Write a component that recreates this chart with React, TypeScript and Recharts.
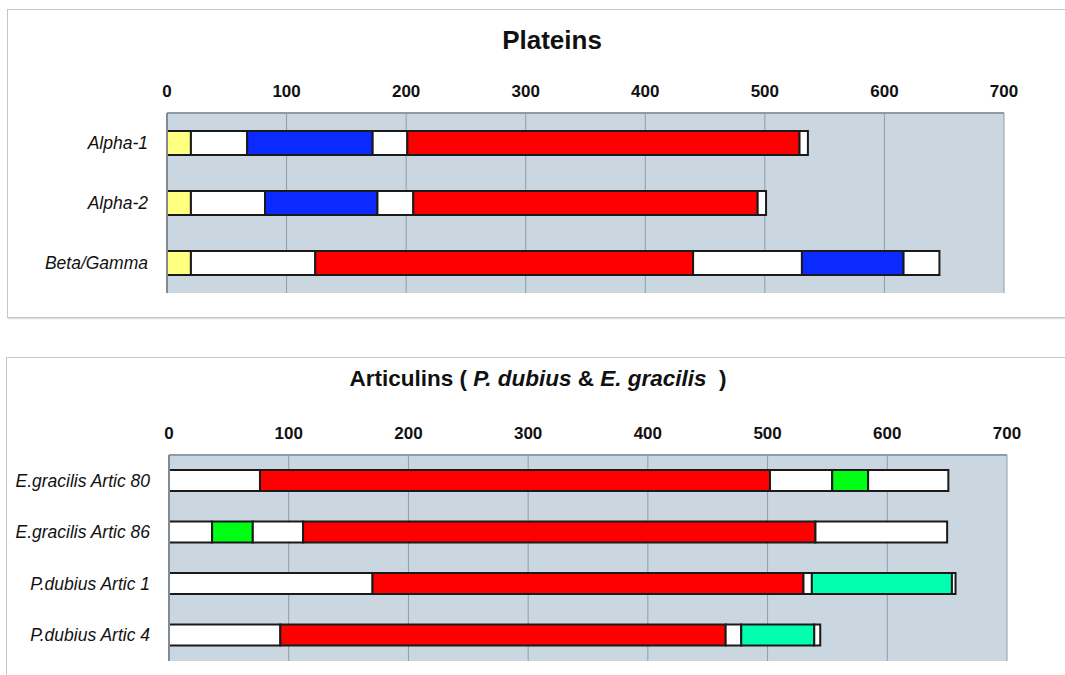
import React from 'react';
import { BarChart, Bar, XAxis, YAxis, CartesianGrid, Cell } from 'recharts';

// ---------- colours ----------
const Y = '#ffff80';
const W = '#ffffff';
const B = '#0a2aff';
const R = '#ff0000';
const G = '#00ff14';
const T = '#00ffae';

// ---------- axis ticks ----------
const xTicks = [0, 100, 200, 300, 400, 500, 600, 700];

// ---------- Plateins ----------
const plateinCategories = ['Alpha-1', 'Alpha-2', 'Beta/Gamma'];
const alpha1Ends = [20, 67, 172, 201, 529, 536];
const alpha1Colors = [Y, W, B, W, R, W];
const alpha2Ends = [20, 82, 176, 206, 494, 501];
const alpha2Colors = [Y, W, B, W, R, W];
const betaGammaEnds = [20, 124, 440, 531, 616, 646];
const betaGammaColors = [Y, W, R, W, B, W];

// ---------- Articulins ----------
const articCategories = [
  'E.gracilis Artic 80',
  'E.gracilis Artic 86',
  'P.dubius Artic 1',
  'P.dubius Artic 4',
];
const artic80Ends = [76, 502, 554, 584, 651];
const artic80Colors = [W, R, W, G, W];
const artic86Ends = [36, 70, 112, 540, 650];
const artic86Colors = [W, G, W, R, W];
const artic1Ends = [170, 530, 537, 654, 657];
const artic1Colors = [W, R, W, T, W];
const artic4Ends = [93, 465, 478, 539, 544];
const artic4Colors = [W, R, W, T, W];

const FONT = '"Liberation Sans", Arial, Helvetica, sans-serif';

function buildRows(cats: string[], ends: number[][]) {
  return cats.map((name, r) => {
    const row: Record<string, any> = { name };
    ends[r].forEach((e, i) => {
      row['s' + i] = e - (i === 0 ? 0 : ends[r][i - 1]);
    });
    return row;
  });
}

const plateinRows = buildRows(plateinCategories, [alpha1Ends, alpha2Ends, betaGammaEnds]);
const plateinColorRows = [alpha1Colors, alpha2Colors, betaGammaColors];
const articRows = buildRows(articCategories, [artic80Ends, artic86Ends, artic1Ends, artic4Ends]);
const articColorRows = [artic80Colors, artic86Colors, artic1Colors, artic4Colors];

function GanttChart(props: {
  rows: Record<string, any>[];
  colors: string[][];
  width: number;
  height: number;
  margin: { top: number; right: number; bottom: number; left: number };
  barSize: number;
}) {
  const { rows, colors, width, height, margin, barSize } = props;
  const nSeg = Math.max(...colors.map((c) => c.length));
  const segIdx = Array.from({ length: nSeg }, (_, i) => i);
  return (
    <BarChart
      layout="vertical"
      width={width}
      height={height}
      data={rows}
      margin={margin}
      barSize={barSize}
      style={{ fontFamily: FONT }}
    >
      <CartesianGrid
        horizontal={false}
        vertical={true}
        fill="#cad7e1"
        fillOpacity={1}
        stroke="#8e9ca7"
        strokeWidth={1}
      />
      <XAxis
        type="number"
        orientation="top"
        domain={[0, 700]}
        ticks={xTicks}
        interval={0}
        height={30}
        tickSize={0}
        tickMargin={16}
        tickLine={false}
        axisLine={{ stroke: '#8e9ca7', strokeWidth: 2 }}
        tick={{ fill: '#111', fontSize: 17, fontWeight: 'bold', fontFamily: FONT }}
      />
      <XAxis
        xAxisId="bottom"
        type="number"
        orientation="bottom"
        domain={[0, 700]}
        ticks={xTicks}
        height={0}
        tick={false}
        tickLine={false}
        axisLine={{ stroke: '#a9b5be', strokeWidth: 2 }}
      />
      <YAxis
        type="category"
        dataKey="name"
        width={150}
        tickSize={0}
        tickMargin={19}
        tickLine={false}
        axisLine={{ stroke: '#7f8c96', strokeWidth: 2 }}
        interval={0}
        tick={{ fill: '#111', fontSize: 17.5, fontStyle: 'italic', fontFamily: FONT }}
      />
      {segIdx.map((i) => (
        <Bar
          key={i}
          dataKey={'s' + i}
          stackId="a"
          isAnimationActive={false}
          stroke="#1a1a1a"
          strokeWidth={2}
        >
          {rows.map((_, r) => (
            <Cell key={r} fill={colors[r][i] || 'none'} />
          ))}
        </Bar>
      ))}
    </BarChart>
  );
}

const panelStyle: React.CSSProperties = {
  position: 'absolute',
  border: '1px solid #c6c6c6',
  boxShadow: '1px 1px 1px #dcdcdc',
  background: '#ffffff',
};

export default function App() {
  return (
    <div
      style={{
        position: 'absolute',
        left: 0,
        top: 0,
        width: 1065,
        height: 675,
        overflow: 'hidden',
        background: '#ffffff',
        fontFamily: FONT,
      }}
    >
      <div style={{ ...panelStyle, left: 7, top: 9, width: 1080, height: 307 }} />
      <div style={{ ...panelStyle, left: 6, top: 357, width: 1080, height: 340 }} />

      <div
        style={{
          position: 'absolute',
          left: 352,
          width: 400,
          top: 27,
          textAlign: 'center',
          fontSize: 26,
          lineHeight: '26px',
          fontWeight: 'bold',
          color: '#111',
        }}
      >
        Plateins
      </div>
      <div
        style={{
          position: 'absolute',
          left: 288,
          width: 500,
          top: 368,
          textAlign: 'center',
          fontSize: 22.5,
          lineHeight: '22px',
          fontWeight: 'bold',
          color: '#111',
          whiteSpace: 'pre',
        }}
      >
        {'Articulins ( '}
        <i>P. dubius</i>
        {' & '}
        <i>E. gracilis</i>
        {'  )'}
      </div>

      <div style={{ position: 'absolute', left: 0, top: 0 }}>
        <GanttChart
          rows={plateinRows}
          colors={plateinColorRows}
          width={1065}
          height={320}
          margin={{ top: 83, right: 61, bottom: 27, left: 17 }}
          barSize={24}
        />
      </div>
      <div style={{ position: 'absolute', left: 0, top: 330 }}>
        <GanttChart
          rows={articRows}
          colors={articColorRows}
          width={1065}
          height={345}
          margin={{ top: 95, right: 58, bottom: 14, left: 19 }}
          barSize={21}
        />
      </div>
    </div>
  );
}
